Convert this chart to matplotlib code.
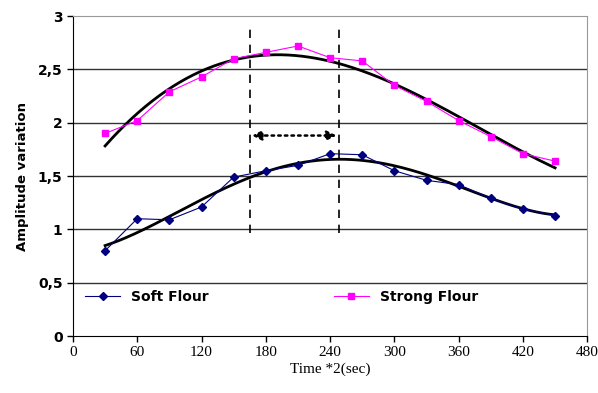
import numpy as np
import matplotlib
matplotlib.use("Agg")
from matplotlib import pyplot as plt

# data
time = [30, 60, 90, 120, 150, 180, 210, 240, 270, 300, 330, 360, 390, 420, 450]
soft = [0.80, 1.10, 1.09, 1.21, 1.49, 1.55, 1.60, 1.71, 1.70, 1.55, 1.46, 1.42, 1.29, 1.19, 1.13]
strong = [1.90, 2.02, 2.29, 2.43, 2.60, 2.66, 2.72, 2.61, 2.58, 2.35, 2.20, 2.02, 1.87, 1.71, 1.64]
# trend lines (black)
soft_trend = [0.85, 0.97, 1.12, 1.27, 1.43, 1.54, 1.62, 1.67, 1.65, 1.58, 1.50, 1.41, 1.30, 1.20, 1.13]
strong_trend = [1.79, 2.07, 2.33, 2.48, 2.59, 2.64, 2.63, 2.57, 2.49, 2.36, 2.22, 2.05, 1.89, 1.74, 1.57]
window = [165, 248]
xticks = [0, 60, 120, 180, 240, 300, 360, 420, 480]
yticks = [0, 0.5, 1, 1.5, 2, 2.5, 3]
ytick_labels = ["0", "0,5", "1", "1,5", "2", "2,5", "3"]

fig = plt.figure(figsize=(5.98, 3.93), dpi=100)
ax = fig.add_axes([0.122, 0.145, 0.860, 0.814])

for y in yticks[1:-1]:
    ax.axhline(y, color="#333333", lw=1.0, zorder=1)

# smooth polynomial trend through the read trend values
t = np.array(time)
tt = np.linspace(t[0], t[-1], 200)
for tr in (soft_trend, strong_trend):
    coef = np.polyfit(t, tr, 4)
    ax.plot(tt, np.polyval(coef, tt), color="black", lw=2.0, zorder=3)

ax.plot(time, soft, color="#000080", lw=0.8, marker="D", ms=4,
        label="Soft Flour", zorder=4)
ax.plot(time, strong, color="#FF00FF", lw=0.8, marker="s", ms=5,
        label="Strong Flour", zorder=4)

for x in window:
    ax.plot([x, x], [0.97, 2.89], color="black", lw=1.2, ls=(0, (5, 4)), zorder=2)
ax.annotate("", xy=(window[0] + 2, 1.88), xytext=(window[1] - 2, 1.88),
            arrowprops=dict(arrowstyle="<|-|>", ls=":", lw=1.8, color="black",
                            mutation_scale=14, shrinkA=0, shrinkB=0))

ax.set_xlim(0, 480)
ax.set_ylim(0, 3)
ax.set_xticks(xticks)
ax.set_xticklabels([str(v) for v in xticks], family="Liberation Serif", fontsize=11)
ax.set_yticks(yticks)
ax.set_yticklabels(ytick_labels, fontweight="bold", fontsize=10)
ax.tick_params(direction="out", length=4, width=1)
ax.set_xlabel("Time *2(sec)", family="Liberation Serif", fontsize=11, labelpad=2)
ax.set_ylabel("Amplitude variation", fontweight="bold", fontsize=9.5, labelpad=6)

for s in ("top", "right"):
    ax.spines[s].set_color("#999999")

ax.legend(loc="lower left", bbox_to_anchor=(0.0, 0.06), ncol=2, frameon=False,
          prop=dict(weight="bold", size=10), columnspacing=9, handlelength=2.5)

fig.savefig("out.png", dpi=100)
